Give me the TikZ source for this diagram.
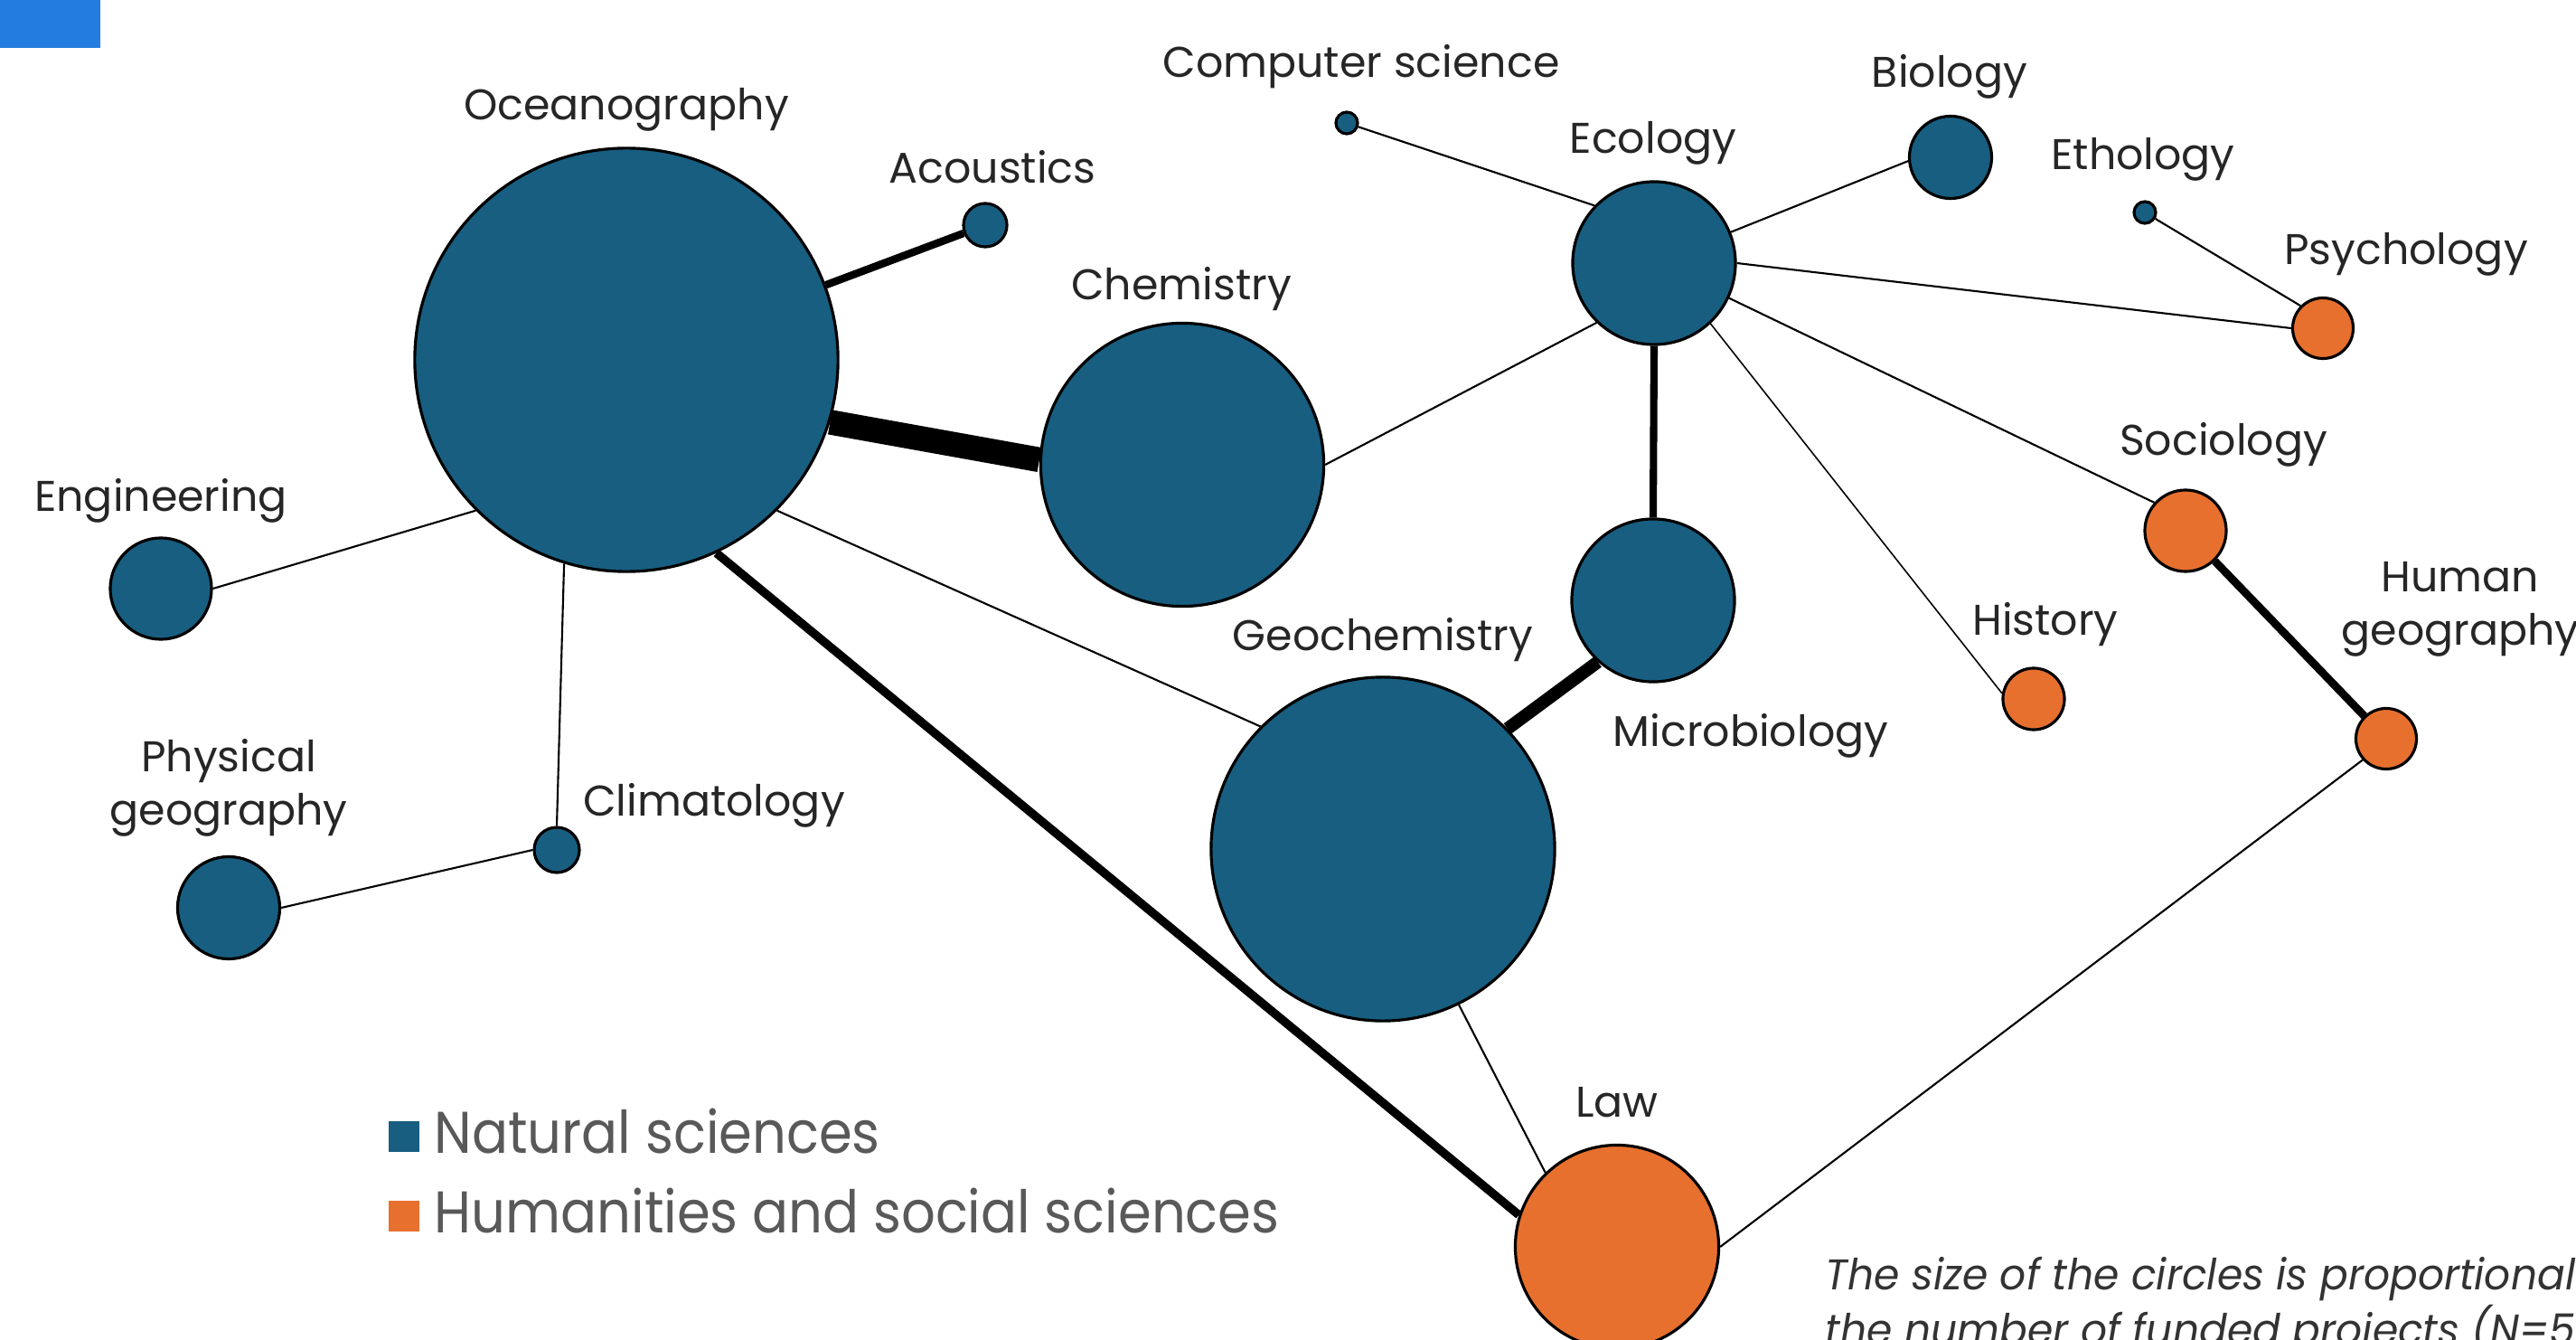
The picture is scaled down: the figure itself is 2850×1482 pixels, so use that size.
\documentclass[tikz,border=0pt]{standalone}
\usepackage{fontspec}
\setmainfont{Poppins}
\newfontfamily\keyfont{Poppins}[FakeStretch=0.91]
\newfontfamily\notefont{Poppins}[FakeStretch=0.96]
\usetikzlibrary{backgrounds}

\definecolor{natblue}{RGB}{24,94,128}
\definecolor{humorange}{RGB}{231,112,46}
\definecolor{tabblue}{RGB}{35,125,225}
\definecolor{keygray}{RGB}{89,89,89}

\begin{document}
\begin{tikzpicture}[x=0.01cm, y=-0.01cm,
    disc/.style={circle, draw=black, line width=0.9pt, inner sep=0pt, minimum size=#1},
    nat/.style={disc=#1, fill=natblue},
    hum/.style={disc=#1, fill=humorange},
    lbl/.style={font=\fontsize{13.5}{16.5}\selectfont, text=black!85, anchor=base, align=center, inner sep=0pt},
    link/.style={line width=0.6pt},
    tie/.style={line width=#1},
    key/.style={font=\keyfont\fontsize{18.5}{22}\selectfont, text=keygray, anchor=base west, inner sep=0pt},
    swatch/.style={minimum size=0.34cm, inner sep=0pt}
]
    \useasboundingbox (0,0) rectangle (2850,1482);
    \clip (0,0) rectangle (2850,1482);

    % corner tab
    \fill[tabblue] (0,0) rectangle (111,53);

    % === Natural sciences ===
    \node[nat=4.68cm] (ocean) at (693,398) {};
    \node[nat=0.48cm] (acou) at (1090,249) {};
    \node[nat=3.13cm] (chem) at (1308,514) {};
    \node[nat=1.12cm] (eng) at (178,651) {};
    \node[nat=1.13cm] (phys) at (253,1004) {};
    \node[nat=0.50cm] (clim) at (616,940) {};
    \node[nat=0.24cm] (cs) at (1490,136) {};
    \node[nat=1.80cm] (eco) at (1830,291) {};
    \node[nat=0.91cm] (bio) at (2158,174) {};
    \node[nat=0.24cm] (etho) at (2373,235) {};
    \node[nat=1.80cm] (micro) at (1829,664) {};
    \node[nat=3.80cm] (geo) at (1530,939) {};

    % === Humanities and social sciences ===
    \node[hum=0.67cm] (psy) at (2570,363) {};
    \node[hum=0.90cm] (soc) at (2418,587) {};
    \node[hum=0.68cm] (hist) at (2250,773) {};
    \node[hum=0.67cm] (humgeo) at (2640,817) {};
    \node[hum=2.25cm] (law) at (1789,1379) {};

    % labels
    \node[lbl] (ocean-l) at (693,133) {Oceanography};
    \node[lbl] (acou-l) at (1098,203) {Acoustics};
    \node[lbl] (chem-l) at (1307,332) {Chemistry};
    \node[lbl] (eng-l) at (178,565) {Engineering};
    \node[lbl] (phys-l) at (253,912) {Physical\\geography};
    \node[lbl] (clim-l) at (790,902) {Climatology};
    \node[lbl] (cs-l) at (1506,86) {Computer science};
    \node[lbl] (eco-l) at (1829,170) {Ecology};
    \node[lbl] (bio-l) at (2157,97) {Biology};
    \node[lbl] (etho-l) at (2371,188) {Ethology};
    \node[lbl] (psy-l) at (2662,293) {Psychology};
    \node[lbl] (soc-l) at (2460,503) {Sociology};
    \node[lbl] (hist-l) at (2263,702) {History};
    \node[lbl] (humgeo-l) at (2722,713) {Human\\geography};
    \node[lbl] (geo-l) at (1530,719) {Geochemistry};
    \node[lbl] (micro-l) at (1937,825) {Microbiology};
    \node[lbl] (law-l) at (1789,1235) {Law};

    % links
    \begin{pgfonlayer}{background}
        \draw[tie=2.4pt] (ocean) -- (acou);
        \draw[tie=7.8pt] (ocean.343) -- (chem.178);
        \draw[link] (ocean.225) -- (eng.east);
        \draw[link] (ocean.253) -- (clim.north);
        \draw[link] (ocean.315) -- (geo.135);
        \draw[tie=2.7pt] (ocean.295) -- (law.162);
        \draw[link] (phys.east) -- (clim.west);
        \draw[link] (chem.east) -- (eco.226);
        \draw[link] (cs) -- (eco.136);
        \draw[link] (eco.22) -- (bio.185);
        \draw[link] (eco.east) -- (psy.west);
        \draw[link] (etho) -- (psy.135);
        \draw[link] (eco.335) -- (soc.138);
        \draw[line width=0.45pt] (eco.313) -- (hist.170);
        \draw[tie=2.3pt] (eco.south) -- (micro.north);
        \draw[tie=4pt] (micro.228) -- (geo.44);
        \draw[tie=2.5pt] (soc) -- (humgeo);
        \draw[link] (geo.296) -- (law.134);
        \draw[link] (law.east) -- (humgeo.222);
    \end{pgfonlayer}

    % legend
    \node[swatch, fill=natblue] (natkey) at (447,1257) {};
    \node[key] (natkey-t) at (480,1275) {Natural sciences};
    \node[swatch, fill=humorange] (humkey) at (447,1345) {};
    \node[key] (humkey-t) at (480,1363) {Humanities and social sciences};

    % note
    \node[font=\notefont\fontsize{13.5}{15.6}\selectfont\itshape, text=black!80, anchor=base west, align=left, inner sep=0pt] (note) at (2019,1487)
        {The size of the circles is proportional\\the number of funded projects (N=5};

\end{tikzpicture}
\end{document}
